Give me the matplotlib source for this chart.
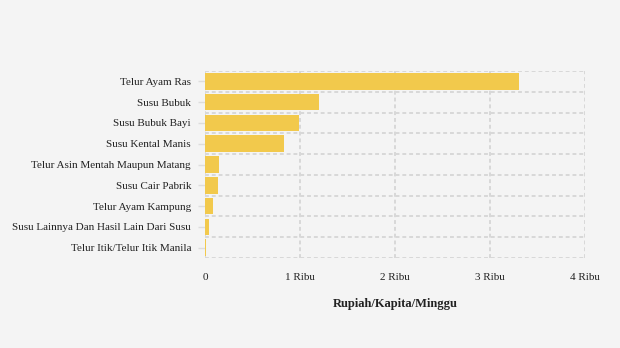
import matplotlib
matplotlib.use("Agg")
import matplotlib.pyplot as plt
from matplotlib.ticker import FixedLocator

categories = [
    "Telur Ayam Ras",
    "Susu Bubuk",
    "Susu Bubuk Bayi",
    "Susu Kental Manis",
    "Telur Asin Mentah Maupun Matang",
    "Susu Cair Pabrik",
    "Telur Ayam Kampung",
    "Susu Lainnya Dan Hasil Lain Dari Susu",
    "Telur Itik/Telur Itik Manila",
]
values = [3305, 1200, 990, 830, 147, 137, 84, 42, 10]
x_ticks = [0, 1000, 2000, 3000, 4000]
x_tick_labels = ["0", "1 Ribu", "2 Ribu", "3 Ribu", "4 Ribu"]

plt.rcParams['font.family'] = ['Liberation Serif', 'DejaVu Serif']

bg = "#f4f4f4"
fig = plt.figure(figsize=(6.2, 3.48), dpi=100, facecolor=bg)
ax = fig.add_axes([205/620, 1-258/348, 380/620, 187/348])
ax.set_facecolor(bg)
ax.set_axisbelow(True)

n = len(categories)
pos = list(range(n))
ax.barh(pos, values, height=0.8, color="#F2C94C", zorder=3)
ax.set_ylim(n - 0.5, -0.5)
ax.set_xlim(0, 4000)

ax.set_yticks(pos)
ax.set_yticklabels(categories, fontsize=8, color="#222222")
ax.yaxis.set_minor_locator(FixedLocator([p - 0.5 for p in range(n + 1)]))
ax.tick_params(axis='y', which='major', length=5, color="#dddddd", width=1, pad=5)
ax.tick_params(axis='y', which='minor', length=0)

ax.set_xticks(x_ticks)
ax.set_xticklabels(x_tick_labels, fontsize=8, color="#222222")
ax.tick_params(axis='x', length=0, pad=11)

ax.grid(True, axis='x', which='major', color="#d8d8d8", linestyle=(0, (2, 1.5)), linewidth=1.4)
ax.grid(True, axis='y', which='minor', color="#d8d8d8", linestyle=(0, (2, 1.5)), linewidth=1.4)
ax.grid(False, axis='y', which='major')

for s in ax.spines.values():
    s.set_visible(False)

ax.set_xlabel("Rupiah/Kapita/Minggu", fontsize=9, fontweight='bold', color="#222222", labelpad=11)

fig.savefig("out.png", dpi=100, facecolor=bg)
